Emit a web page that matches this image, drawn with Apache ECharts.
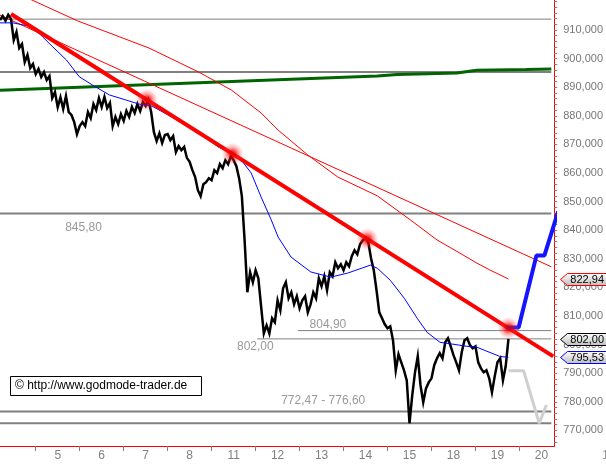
<!DOCTYPE html>
<html><head><meta charset="utf-8">
<script src="https://cdn.jsdelivr.net/npm/echarts@6/dist/echarts.min.js"></script>
<style>html,body{margin:0;padding:0;background:#fff}#c{width:606px;height:466px}</style>
</head><body><div id="c"></div>
<script>
// ---- data (x in intraday bar units, 16 bars per trading day) ----
const dayLabels = ['5','6','7','8','11','12','13','14','15','18','19','20'];
const dayStartBar = [13,29,45,61,77,93,109,125,141,157,173,189];
const yLabelValues = [770,780,790,800,810,820,830,840,850,860,870,880,890,900,910];

const price = [
913.5,914.9,913.2,915.3,913.9,906.5,909.3,903.7,905.1,898.8,
901.3,896.7,898.1,894.6,896.4,893.6,895.3,892.5,893.9,886.2,
888.3,883.0,886.5,882.4,886.9,881.3,880.3,877.8,873.6,876.4,
877.8,876.4,881.3,879.2,884.1,882.0,886.2,883.1,886.6,882.7,
884.5,876.4,879.6,877.1,880.6,878.2,881.7,879.6,883.1,881.0,
884.1,881.7,884.8,883.4,885.5,881.3,874.3,871.2,873.9,870.5,
873.3,873.6,871.5,872.9,867.3,869.4,868.0,869.1,865.3,863.9,
861.0,858.6,854.0,851.9,856.1,856.8,858.2,857.5,861.0,860.0,
863.1,861.7,864.5,863.1,865.9,864.5,862.4,858.2,851.9,836.5,
818.3,825.3,821.8,826.0,823.2,813.4,803.9,806.7,803.9,809.2,
807.8,815.5,812.0,819.7,821.8,816.2,818.3,814.1,816.9,812.7,
815.5,816.9,811.3,814.1,818.3,816.2,823.2,820.4,823.9,819.0,
825.3,823.9,828.8,826.7,828.1,826.0,828.8,827.4,830.9,833.0,
831.6,835.1,836.5,837.2,835.8,830.2,826.0,819.0,811.3,809.2,
807.1,805.7,806.4,801.5,791.0,796.6,793.8,791.0,787.5,772.5,
782.3,790.3,795.9,785.8,779.8,784.7,786.8,788.2,792.8,795.2,
797.0,795.2,800.8,802.2,799.4,796.3,793.8,791.0,797.3,801.5,
802.2,799.8,798.7,799.4,793.8,791.7,790.3,791.0,788.2,783.3,
788.9,793.8,795.2,787.5,792.4,802.0
];

const blueMA = [
[0,912.5],[4.7,912.5],[11.9,911.1],[15.5,907.6],[19.2,904.1],[24.2,899.5],[28.9,893.6],
[33.6,890.8],[39.8,887.3],[45.9,885.5],[50.6,884.1],[55.3,883.4],[62.5,879.6],[72.3,874.0],
[79.5,869.1],[84.2,867.0],[87.8,864.5],[91.4,860.0],[95.0,851.6],[98.7,843.6],[101.2,837.6],
[105.9,830.6],[113.1,825.4],[120.3,823.6],[126.5,825.0],[134.8,827.8],[137.3,826.7],
[142.0,822.5],[147.1,816.2],[151.8,809.2],[155.4,804.3],[160.1,800.8],[165.2,800.1],
[169.9,799.4],[173.5,799.1],[177.1,797.7],[181.8,795.9],[185.0,795.53]
];

const redMA = [
[0,925.4],[11.6,920.5],[28.2,913.2],[54.2,903.7],[72.3,895.3],[84.2,889.0],[95.0,881.0],
[101.2,875.0],[112.0,866.3],[122.9,858.6],[137.3,852.0],[149.3,843.6],[159.0,836.6],
[167.3,832.0],[173.5,828.5],[178.2,826.1],[185.0,822.94]
];

const redChannel = [[0,915.2],[200.6,827.2]];
const trendLine = [[4.0,915.6],[201.3,795.9]];
const touchBars = [53.5,84.6,133.7,185.0];
const touchValues = [885.6,866.7,836.9,805.8];

const greenLine = [
[0,888.9],[72.3,891.6],[137.3,893.9],[144.6,894.4],[155.4,894.7],[166.2,895.0],
[173.5,895.9],[191.5,896.2],[200.6,896.4]
];

const levels = [913.8,895.3,845.8,804.9,802.0,776.6,772.47];
const levelStartBar = [0,0,0,108.4,93.6,0,0];
const levelEndBar = 200.6;

const bullPath = [[184.3,806.0],[188.7,806.0],[195.2,831.2],[198.1,831.2],[203.1,846.6]];
const bearPath = [[185.0,790.9],[190.5,790.9],[196.2,772.5],[198.8,778.9]];

const tagValues = [822.94,802.00,795.53];

// ---- helpers ----
const fmt2 = v => v.toFixed(2).replace('.', ',');
const fmt3 = v => v.toFixed(3).replace('.', ',');
const FONT = '"Liberation Sans", Arial, sans-serif';
const GRAY = '#808080';

const chart = echarts.init(document.getElementById('c'), null, {renderer:'canvas'});

const series = [];
levels.forEach((lv, k) => {
  const thin = (lv === 913.8 || lv === 804.9 || lv === 802.0);
  series.push({
    type:'line', silent:true, showSymbol:false, z:1,
    data:[[levelStartBar[k], lv],[levelEndBar, lv]],
    lineStyle:{color:GRAY, width: thin ? 1 : 2}
  });
});
series.push({
  type:'scatter', silent:true, symbolSize:1, z:2,
  itemStyle:{color:'transparent'},
  label:{show:true, position:'inside', color:GRAY, fontSize:12, fontFamily:FONT},
  data:[
    {value:[30.4,841.0], label:{formatter: fmt2(845.8)}},
    {value:[119.3,806.9], label:{formatter: fmt2(804.9)}},
    {value:[92.9,799.2], label:{formatter: fmt2(802.0)}},
    {value:[117.6,780.5], label:{formatter: fmt2(772.47) + ' - ' + fmt2(776.6)}}
  ]
});
series.push({type:'line', silent:true, showSymbol:false, z:3, data:greenLine,
  lineStyle:{color:'#006400', width:3}});
series.push({type:'line', silent:true, showSymbol:false, z:4, data:redChannel,
  lineStyle:{color:'#ff0000', width:1}});
series.push({type:'line', silent:true, showSymbol:false, z:4, data:redMA,
  lineStyle:{color:'#ff0000', width:1}});
series.push({type:'line', silent:true, showSymbol:false, z:5,
  data: price.map((v,i)=>[i,v]),
  lineStyle:{color:'#000000', width:2.5, join:'miter'}});
series.push({type:'line', silent:true, showSymbol:false, z:6, data:blueMA,
  lineStyle:{color:'#0000ff', width:1}});
series.push({type:'line', silent:true, showSymbol:false, z:7, data:trendLine,
  lineStyle:{color:'#ff0000', width:4}});
series.push({type:'line', silent:true, showSymbol:false, z:7, data:bearPath, clip:false,
  lineStyle:{color:'#cfcfcf', width:3}});
series.push({type:'line', silent:true, showSymbol:false, z:7, data:bullPath, clip:false,
  lineStyle:{color:'#1414ff', width:4}});
series.push({type:'scatter', silent:true, z:8, symbolSize:22,
  data: touchBars.map((b,k)=>[b,touchValues[k]]),
  itemStyle:{color:{type:'radial',x:0.5,y:0.5,r:0.5,colorStops:[
    {offset:0,color:'rgba(230,0,0,1)'},{offset:0.3,color:'rgba(240,0,0,0.9)'},
    {offset:0.6,color:'rgba(255,40,40,0.45)'},{offset:1,color:'rgba(255,80,80,0)'}]}}
});

const yTicks = [];
for (let v = 766; v <= 920; v += 2) yTicks.push(v);

const option = {
  animation:false,
  backgroundColor:'#ffffff',
  grid:{left:0, top:0, right:48, bottom:20, containLabel:false},
  xAxis:{
    type:'value', min:0, max:201.66,
    axisLine:{show:true, onZero:false, lineStyle:{color:'#ff0000', width:1}},
    axisTick:{show:true, customValues: dayStartBar, length:5, lineStyle:{color:GRAY}},
    axisLabel:{show:true, customValues: dayStartBar.map(b=>b+8), margin:4,
      color:GRAY, fontSize:12, fontFamily:FONT,
      formatter: v => { const k = dayStartBar.indexOf(Math.round(v-8)); return k>=0 ? dayLabels[k] : ''; }},
    splitLine:{show:false}
  },
  yAxis:{
    type:'value', position:'right', min:764.55, max:920.49, scale:true,
    axisLine:{show:true, onZero:false, lineStyle:{color:'#ff0000', width:1}},
    axisTick:{show:true, customValues: yTicks, length:3, lineStyle:{color:GRAY}},
    axisLabel:{show:true, customValues: yLabelValues, margin:9, color:'#777777',
      fontSize:11, fontFamily:FONT, formatter: v => fmt3(v)},
    splitLine:{show:false}
  },
  series: series
};
chart.setOption(option);

// value tags on the price axis, placed through the axis scale
const tagColors = ['#ff0000','#000000','#0000ff'];
const graphics = [];
tagValues.forEach((v,k) => {
  const y = Math.round(chart.convertToPixel({yAxisIndex:0}, v)) + 0.5;
  graphics.push({type:'polygon', z:100,
    shape:{points:[[560.5,y],[567.5,y-6],[607,y-6],[607,y+6],[567.5,y+6]]},
    style:{fill:new echarts.graphic.LinearGradient(0,0,0,1,[{offset:0,color:'#ffffff'},{offset:1,color:'#bdbdbd'}]),
      stroke:tagColors[k], lineWidth:1}});
  graphics.push({type:'text', z:101, x:604, y:y,
    style:{text:fmt2(v), fill:'#000000', font:'11px ' + FONT, align:'right', verticalAlign:'middle'}});
});
graphics.push({type:'rect', z:100, shape:{x:10.5,y:376.5,width:191,height:19},
  style:{fill:'#ffffff', stroke:'#000000', lineWidth:1}});
graphics.push({type:'text', z:101, x:15, y:386,
  style:{text:'\u00a9 http://www.godmode-trader.de', fill:'#000000', font:'12px ' + FONT, verticalAlign:'middle'}});
graphics.push({type:'text', z:101, x:602, y:450,
  style:{text:'1', fill:'#999999', font:'12px ' + FONT, verticalAlign:'top'}});
chart.setOption({graphic: graphics});
</script>
</body></html>
